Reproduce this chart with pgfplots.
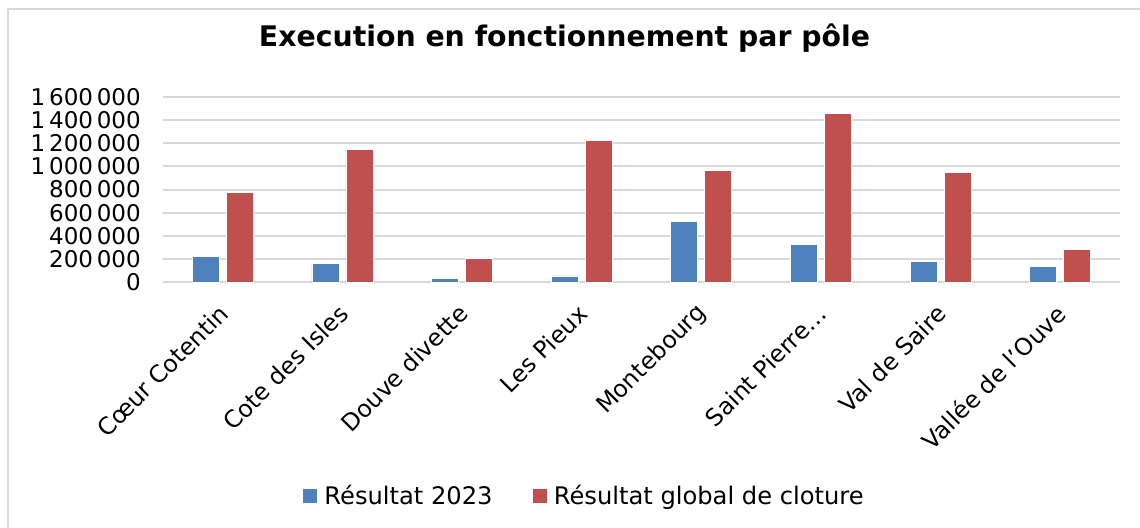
\documentclass[border=0pt]{standalone}
\usepackage{pgfplots}
\pgfplotsset{compat=1.18}
\usepackage{fontspec}
\setmainfont{DejaVu Sans}
\definecolor{cblue}{HTML}{4F81BD}
\definecolor{cred}{HTML}{C0504D}
\definecolor{cgrid}{HTML}{D9D9D9}
\begin{document}
\begin{tikzpicture}
\useasboundingbox (0pt,0pt) rectangle (684pt,316.2pt);
\draw[cgrid, line width=1pt] (4.8pt,-5pt) -- (4.8pt,310.8pt) -- (690pt,310.8pt);
\node[anchor=base, font=\fontsize{17}{20}\selectfont\bfseries] at (338.7pt,288pt) {Execution en fonctionnement par pôle};
\begin{axis}[
  at={(97.8pt,147pt)}, anchor=south west,
  scale only axis, width=574.2pt, height=111pt,
  ybar=4.2pt, bar width=16.2pt,
  xmin=-0.5, xmax=7.5, ymin=0, ymax=1600000,
  xtick=data,
  xticklabels={Cœur Cotentin,Cote des Isles,Douve divette,Les Pieux,Montebourg,Saint Pierre…,Val de Saire,Vallée de l'Ouve},
  ytick={0,200000,400000,600000,800000,1000000,1200000,1400000,1600000},
  scaled y ticks=false,
  /pgf/number format/.cd, fixed, 1000 sep={\,}, assume math mode=true,
  /pgfplots/.cd,
  major tick length=0pt,
  ymajorgrids, grid style={cgrid, line width=1.2pt},
  axis line style={draw=none},
  axis x line*=bottom,
  every axis x line/.append style={draw=cgrid, line width=1.2pt},
  tick label style={font=\fontsize{13.8}{14}\selectfont},
  yticklabel style={xshift=-9.8pt},
  xticklabel style={xshift=3.2pt, yshift=-13.9pt, rotate=45, anchor=east, font=\fontsize{14.2}{15}\selectfont},
  legend style={at={(0.441,-1.157)}, anchor=center, draw=none, font=\fontsize{14.5}{15}\selectfont,
    legend columns=2, /tikz/every even column/.append style={column sep=22pt},
    inner sep=0pt},
  legend image code/.code={\fill[#1, draw=none] (0pt,-4.2pt) rectangle (8.4pt,4.2pt); \path[draw=none, fill=none] (0pt,0pt) -- (10.8pt,0pt);},
]
\addplot[fill=cblue, draw=white, line width=0.4pt] coordinates {(0,222000) (1,162000) (2,32000) (3,52000) (4,522000) (5,323000) (6,176000) (7,133000)};
\addlegendentry{Résultat 2023}
\addplot[fill=cred, draw=white, line width=0.4pt] coordinates {(0,776000) (1,1149000) (2,205000) (3,1224000) (4,966000) (5,1455000) (6,951000) (7,285000)};
\addlegendentry{Résultat global de cloture}
\end{axis}
\end{tikzpicture}
\end{document}
